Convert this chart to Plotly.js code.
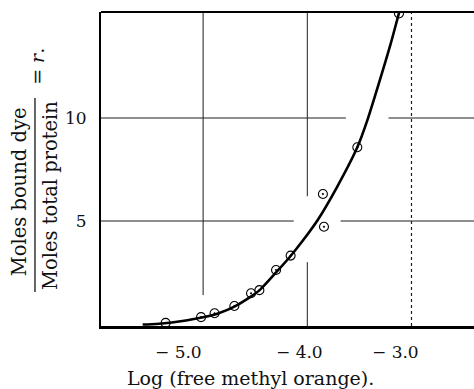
<!DOCTYPE html>
<html>
<head>
<meta charset="utf-8">
<script src="https://cdn.plot.ly/plotly-3.0.1.min.js"></script>
<style>html,body{margin:0;padding:0;background:#fff;}#chart{width:474px;height:389px;}</style>
</head>
<body>
<div id="chart"></div>
<script>
// Measured points: log(free methyl orange) vs r
const pointX = [-5.36, -5.02, -4.89, -4.70, -4.54, -4.46, -4.30, -4.16, -3.85, -3.84, -3.52, -3.12];
const pointR = [0.05, 0.33, 0.52, 0.87, 1.49, 1.64, 2.62, 3.32, 6.31, 4.72, 8.58, 15.08];
// Smooth fitted curve
const curveX = [-5.58, -5.45, -5.3, -5.15, -5.0, -4.85, -4.7, -4.55, -4.45, -4.3, -4.16, -4.05, -3.9, -3.72, -3.52, -3.42, -3.3, -3.2, -3.12];
const curveR = [-0.03, 0.0, 0.07, 0.18, 0.32, 0.52, 0.84, 1.30, 1.68, 2.50, 3.30, 4.00, 5.05, 6.60, 8.58, 9.95, 11.9, 13.6, 15.1];
// Tick labels
const xTickVals = [-5, -4, -3];
const xTickText = ["\u2212 5.0", "\u2212 4.0", "\u2212 3.0"];
const yTickVals = [5, 10];
const yTickText = ["5", "10"];

const serif = "DejaVu Serif, serif";
const gridColor = "#1e1e1e";
const xLabelShift = [-25, -8, -16];

const traces = [
  {x: curveX, y: curveR, mode: "lines", line: {color: "#000", width: 2.6, shape: "spline", smoothing: 0.6}, hoverinfo: "skip"},
  {x: pointX, y: pointR, mode: "markers", marker: {symbol: "circle-open-dot", size: 9, color: "#000", line: {width: 1.1, color: "#000"}}}
];

function seg(x0, y0, x1, y1, dash, w) {
  return {type: "line", xref: "x", yref: "y", x0: x0, y0: y0, x1: x1, y1: y1, layer: "below",
          line: {color: gridColor, width: w || 1, dash: dash || "solid"}};
}

const shapes = [
  seg(-5, 1.4, -5, 15.15),
  seg(-4, 6.2, -4, 15.15),
  seg(-4, -0.1, -4, 3.0),
  seg(-3, -0.1, -3, 15.15, "dot", 1.2),
  seg(-5.98, 10, -3.63, 10, "solid", 1.1),
  seg(-3.22, 10, -2.40, 10, "solid", 1.1),
  seg(-5.98, 5, -4.13, 5, "solid", 1.1),
  seg(-3.68, 5, -2.40, 5, "solid", 1.1),
  // top frame line
  {type: "line", xref: "paper", yref: "paper", x0: 0, x1: 1, y0: 1, y1: 1, line: {color: "#000", width: 2}},
  // fraction bar of y title
  {type: "line", xref: "paper", yref: "paper", x0: -0.177, x1: -0.177, y0: 0.108, y1: 0.726, line: {color: "#000", width: 1.2}}
];

const annotations = [
  {xref: "paper", yref: "paper", x: -0.218, y: 0.428, text: "Moles bound dye", textangle: -90, showarrow: false,
   xanchor: "center", yanchor: "middle", font: {family: serif, size: 19.5, color: "#111"}},
  {xref: "paper", yref: "paper", x: -0.137, y: 0.417, text: "Moles total protein", textangle: -90, showarrow: false,
   xanchor: "center", yanchor: "middle", font: {family: serif, size: 19.5, color: "#111"}},
  {xref: "paper", yref: "paper", x: -0.172, y: 0.828, text: "= <i>r</i>.", textangle: -90, showarrow: false,
   xanchor: "center", yanchor: "middle", font: {family: serif, size: 19, color: "#111"}},
  {xref: "paper", yref: "paper", x: (250 - 101) / 373, y: -0.165, text: "Log (free methyl orange).", showarrow: false,
   xanchor: "center", yanchor: "middle", font: {family: serif, size: 19, color: "#111"}}
];
xTickVals.forEach((v, i) => {
  annotations.push({xref: "x", yref: "paper", x: v, y: 0, yshift: -26, xshift: xLabelShift[i], text: xTickText[i],
    showarrow: false, xanchor: "center", yanchor: "middle", font: {family: serif, size: 17, color: "#111"}});
});

const layout = {
  width: 474, height: 389,
  margin: {l: 101, r: 0, t: 12, b: 63},
  paper_bgcolor: "#fff", plot_bgcolor: "#fff",
  showlegend: false,
  font: {family: serif, color: "#111"},
  xaxis: {range: [-5.98, -2.40], tickvals: xTickVals, ticktext: xTickText, showticklabels: false, showgrid: false, zeroline: false,
          showline: true, linecolor: "#000", linewidth: 2.5, ticks: "", ticklen: 0},
  yaxis: {range: [-0.1, 15.15], tickvals: yTickVals, ticktext: yTickText, showgrid: false, zeroline: false,
          showline: true, linecolor: "#000", linewidth: 2, ticks: "", ticklen: 0, ticklabelstandoff: 9,
          tickfont: {family: serif, size: 17, color: "#111"}},
  shapes: shapes,
  annotations: annotations
};

Plotly.newPlot("chart", traces, layout, {displayModeBar: false, staticPlot: true});
</script>
</body>
</html>
